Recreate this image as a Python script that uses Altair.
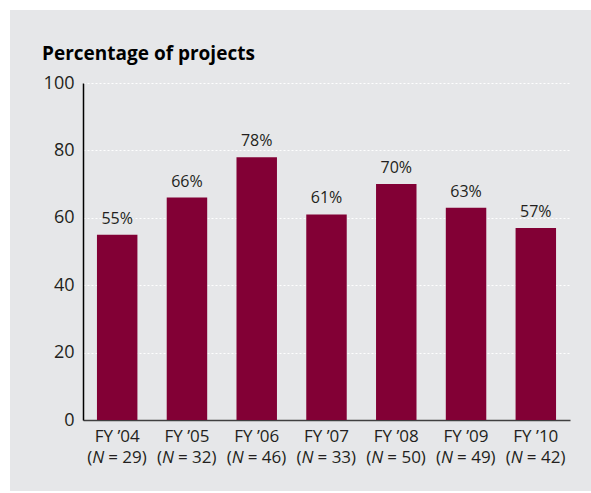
import altair as alt
import pandas as pd

years = ["FY \u201904", "FY \u201905", "FY \u201906", "FY \u201907", "FY \u201908", "FY \u201909", "FY \u201910"]
ns = [29, 32, 46, 33, 50, 49, 42]
values = [55, 66, 78, 61, 70, 63, 57]
y_ticks = [0, 20, 40, 60, 80, 100]
title_text = "Percentage of projects"

df = pd.DataFrame({
    "cat": years,
    "value": values,
    "label": [f"{v}%" for v in values],
    "open": ["("] * len(ns),
    "nlet": ["N"] * len(ns),
    "rest": [f"= {n})" for n in ns],
})
order = years

FONT = "Open Sans"
BAR = "#820035"
BG = "#e6e7e9"
TXT = "#231f20"
H = 337

xscale = alt.Scale(domain=order, paddingInner=0.42, paddingOuter=0.2)
x_enc = alt.X("cat:N", sort=order, title=None, scale=xscale,
              axis=alt.Axis(labels=False, ticks=False, domainColor="#404040",
                            domainWidth=1.5, grid=False))
y_enc = alt.Y("value:Q", title=None,
              scale=alt.Scale(domain=[0, 100], nice=False),
              axis=alt.Axis(values=y_ticks, labelFont=FONT, labelFontSize=18,
                            labelColor=TXT, labelPadding=9, ticks=False,
                            domainColor="#000000", domainWidth=1.5,
                            grid=True, gridColor="#ffffff", gridDash=[2, 2],
                            gridWidth=1))
xs = alt.X("cat:N", sort=order, scale=xscale)

one = pd.DataFrame({"t": [title_text]})
strip_top = alt.Chart(one).mark_rect(color="#ffffff").encode(
    x=alt.value(-83), x2=alt.value(508), y=alt.value(-83), y2=alt.value(-73))
strip_left = alt.Chart(one).mark_rect(color="#ffffff").encode(
    x=alt.value(-83), x2=alt.value(-73), y=alt.value(-83), y2=alt.value(410))
strip_bot = alt.Chart(one).mark_rect(color="#ffffff").encode(
    x=alt.value(-83), x2=alt.value(508), y=alt.value(408), y2=alt.value(410))
title = alt.Chart(one).mark_text(font=FONT, fontSize=19, fontWeight="bold",
                                 color="#000000", align="left",
                                 baseline="alphabetic").encode(
    x=alt.value(-41), y=alt.value(-23), text="t:N")

bars = alt.Chart(df).mark_bar(color=BAR).encode(x=x_enc, y=y_enc)
texts = alt.Chart(df).mark_text(font=FONT, fontSize=16, color=TXT,
                                baseline="alphabetic", dy=-11).encode(
    x=xs, y="value:Q", text="label:N")

FS = 17
line1 = alt.Chart(df).mark_text(font=FONT, fontSize=FS, color=TXT,
                                baseline="alphabetic").encode(
    x=xs, y=alt.value(H + 22), text="cat:N")
p_open = alt.Chart(df).mark_text(font=FONT, fontSize=FS, color=TXT,
                                 baseline="alphabetic", align="right",
                                 dx=-25).encode(
    x=xs, y=alt.value(H + 43), text="open:N")
p_n = alt.Chart(df).mark_text(font=FONT, fontSize=FS, color=TXT,
                              fontStyle="italic", baseline="alphabetic",
                              align="left", dx=-25).encode(
    x=xs, y=alt.value(H + 43), text="nlet:N")
p_rest = alt.Chart(df).mark_text(font=FONT, fontSize=FS, color=TXT,
                                 baseline="alphabetic", align="left",
                                 dx=-9).encode(
    x=xs, y=alt.value(H + 43), text="rest:N")

chart = alt.layer(bars, texts, line1, p_open, p_n, p_rest,
                  strip_top, strip_left, strip_bot, title).properties(
    width=487, height=H,
    autosize=alt.AutoSizeParams(type="none"),
    padding={"left": 83, "top": 83, "right": 21, "bottom": 73},
    background=BG,
).configure_view(stroke=None)

chart.save("out.html", embed_options={"renderer": "svg", "actions": False})
